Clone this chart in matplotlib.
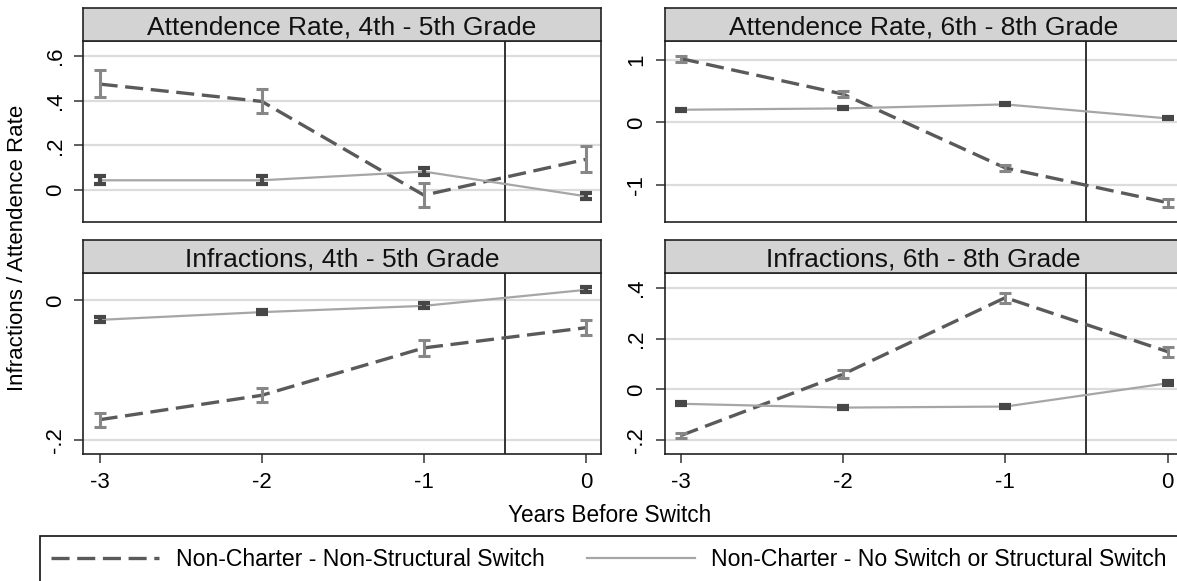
import matplotlib
matplotlib.use('Agg')
import matplotlib.pyplot as plt
from matplotlib.lines import Line2D
from matplotlib.patches import Rectangle
from matplotlib.ticker import FixedLocator, FixedFormatter

plt.rcParams['font.family'] = ['Liberation Sans', 'DejaVu Sans']
plt.rcParams['lines.scale_dashes'] = False

# ---------------- data ----------------
years = [-3, -2, -1, 0]
year_labels = ['-3', '-2', '-1', '0']

series_labels = ['Non-Charter - Non-Structural Switch',
                 'Non-Charter - No Switch or Structural Switch']

titles = ['Attendence Rate, 4th - 5th Grade', 'Attendence Rate, 6th - 8th Grade',
          'Infractions, 4th - 5th Grade', 'Infractions, 6th - 8th Grade']

# Attendence Rate, 4th-5th
att45_ns = [0.475, 0.397, -0.024, 0.137]
att45_ns_lo = [0.415, 0.343, -0.079, 0.078]
att45_ns_hi = [0.537, 0.451, 0.030, 0.197]
att45_ctl = [0.043, 0.043, 0.082, -0.029]
att45_ctl_lo = [0.027, 0.027, 0.066, -0.042]
att45_ctl_hi = [0.060, 0.060, 0.097, -0.015]

# Attendence Rate, 6th-8th
att68_ns = [1.016, 0.45, -0.725, -1.277]
att68_ns_lo = [0.968, 0.40, -0.77, -1.34]
att68_ns_hi = [1.064, 0.50, -0.68, -1.218]
att68_ctl = [0.202, 0.223, 0.287, 0.064]
att68_ctl_lo = [0.187, 0.208, 0.272, 0.049]
att68_ctl_hi = [0.217, 0.238, 0.302, 0.079]

# Infractions, 4th-5th
inf45_ns = [-0.171, -0.136, -0.068, -0.039]
inf45_ns_lo = [-0.181, -0.146, -0.079, -0.050]
inf45_ns_hi = [-0.161, -0.125, -0.057, -0.028]
inf45_ctl = [-0.0278, -0.0167, -0.0077, 0.0153]
inf45_ctl_lo = [-0.0312, -0.0201, -0.0111, 0.0119]
inf45_ctl_hi = [-0.0244, -0.0133, -0.0043, 0.0187]

# Infractions, 6th-8th
inf68_ns = [-0.182, 0.060, 0.362, 0.149]
inf68_ns_lo = [-0.193, 0.045, 0.342, 0.129]
inf68_ns_hi = [-0.171, 0.075, 0.382, 0.168]
inf68_ctl = [-0.057, -0.072, -0.068, 0.024]
inf68_ctl_lo = [-0.063, -0.078, -0.074, 0.017]
inf68_ctl_hi = [-0.051, -0.066, -0.062, 0.031]

yticks = [[0, 0.2, 0.4, 0.6], [-1, 0, 1], [-0.2, 0], [-0.2, 0, 0.2, 0.4]]
yticklabels = [['0', '.2', '.4', '.6'], ['-1', '0', '1'], ['-.2', '0'],
               ['-.2', '0', '.2', '.4']]
ylims = [(-0.143, 0.667), (-1.581, 1.292), (-0.2205, 0.039), (-0.256, 0.458)]

panels = [
    (att45_ns, att45_ns_lo, att45_ns_hi, att45_ctl, att45_ctl_lo, att45_ctl_hi),
    (att68_ns, att68_ns_lo, att68_ns_hi, att68_ctl, att68_ctl_lo, att68_ctl_hi),
    (inf45_ns, inf45_ns_lo, inf45_ns_hi, inf45_ctl, inf45_ctl_lo, inf45_ctl_hi),
    (inf68_ns, inf68_ns_lo, inf68_ns_hi, inf68_ctl, inf68_ctl_lo, inf68_ctl_hi),
]

# ---------------- styling ----------------
W, H = 1177, 581
fig = plt.figure(figsize=(W / 100, H / 100), dpi=100)

NS_LINE = '#5a5a5a'
NS_ERR = '#878787'
CTL_LINE = '#a6a6a6'
CTL_ERR = '#474747'
STRIP = '#d3d3d3'
DASH = (13, 5.5)

lefts = [83.4, 664.8, 83.4, 664.8]
plot_tops = [41.3, 41.3, 273.3, 273.3]
plot_bots = [221.7, 221.7, 454.2, 454.2]
strip_tops = [8.3, 8.3, 240.0, 240.0]
pw = 600.7 - 83.4


def fy(px):
    return 1 - px / H


for i in range(4):
    ns, ns_lo, ns_hi, ctl, ctl_lo, ctl_hi = panels[i]
    ax = fig.add_axes([lefts[i] / W, fy(plot_bots[i]), pw / W,
                       (plot_bots[i] - plot_tops[i]) / H])
    sax = fig.add_axes([lefts[i] / W, fy(plot_tops[i]), pw / W,
                        (plot_tops[i] - strip_tops[i]) / H])
    sax.set_facecolor(STRIP)
    sax.set_xticks([])
    sax.set_yticks([])
    for s in sax.spines.values():
        s.set_linewidth(1.2)
        s.set_color('#222222')
    sax.text(0.5, 0.5, titles[i], ha='center', va='center_baseline',
             fontsize=19, transform=sax.transAxes, color='#111111')

    ax.plot(years, ns, color=NS_LINE, lw=2.4, dashes=DASH, zorder=3)
    ax.plot(years, ctl, color=CTL_LINE, lw=1.6, zorder=3)
    ax.errorbar(years, ns, yerr=[[m - l for m, l in zip(ns, ns_lo)],
                                 [h - m for m, h in zip(ns, ns_hi)]],
                fmt='none', ecolor=NS_ERR, elinewidth=2.2, capsize=4.4,
                capthick=2.2, zorder=4)
    ax.errorbar(years, ctl, yerr=[[m - l for m, l in zip(ctl, ctl_lo)],
                                  [h - m for m, h in zip(ctl, ctl_hi)]],
                fmt='none', ecolor=CTL_ERR, elinewidth=3, capsize=4.4,
                capthick=3, zorder=4)
    ax.axvline(-0.5, color='#333333', lw=1.4, zorder=2)

    ax.set_xlim(-3.1, 0.09)
    ax.set_ylim(*ylims[i])
    ax.yaxis.set_major_locator(FixedLocator(yticks[i]))
    ax.yaxis.set_major_formatter(FixedFormatter(yticklabels[i]))
    ax.yaxis.grid(True, color='#dcdcdc', lw=1.6)
    ax.set_axisbelow(True)
    ax.tick_params(axis='y', labelrotation=90, length=6.5, width=1.1,
                   color='#333333', labelsize=16, pad=6)
    for lab in ax.get_yticklabels():
        lab.set_va('center')
    ax.xaxis.set_major_locator(FixedLocator(years))
    if i >= 2:
        ax.xaxis.set_major_formatter(FixedFormatter(year_labels))
        ax.tick_params(axis='x', length=6.5, width=1.1, color='#333333',
                       labelsize=16, pad=6)
    else:
        ax.tick_params(axis='x', length=0, labelbottom=False)
    for s in ax.spines.values():
        s.set_linewidth(1.2)
        s.set_color('#222222')

fig.text(610 / W, fy(515), 'Years Before Switch', ha='center', va='center',
         fontsize=16.3)
fig.text(18 / W, fy(248), 'Infractions / Attendence Rate', ha='center',
         va='center', rotation=90, fontsize=16)

# legend frame extends past the right and bottom edges, as in the reference
frame = Rectangle((40 / W, fy(600)), (1220 - 40) / W, (600 - 535.7) / H,
                  transform=fig.transFigure, facecolor='white',
                  edgecolor='#111111', lw=1.2, zorder=1)
fig.add_artist(frame)

handles = [Line2D([], [], color=NS_LINE, lw=2.4, dashes=DASH),
           Line2D([], [], color=CTL_LINE, lw=1.6)]
leg = fig.legend(handles, series_labels, loc='center left',
                 bbox_to_anchor=(51 / W, fy(560)), ncol=2, frameon=False,
                 fontsize=16.6, handlelength=4.7, handletextpad=0.7,
                 columnspacing=1.85, borderpad=0, borderaxespad=0)
leg.set_zorder(2)

fig.savefig('out.png', dpi=100)
